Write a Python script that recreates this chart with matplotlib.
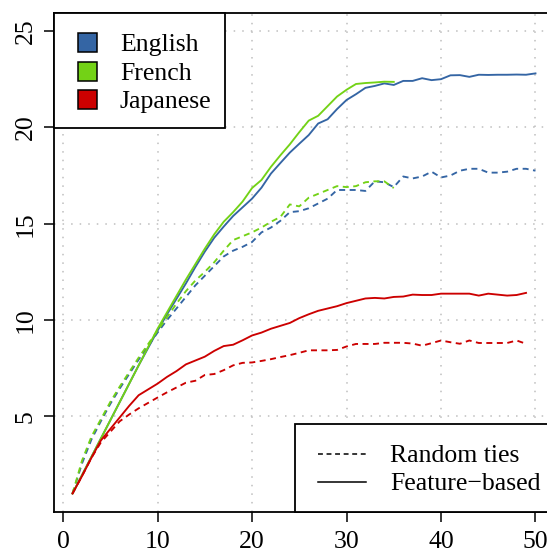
import matplotlib
matplotlib.use("Agg")
import matplotlib.pyplot as plt
from matplotlib.patches import Rectangle
from matplotlib.lines import Line2D

plt.rcParams['font.family'] = ['Liberation Serif', 'DejaVu Serif']

# ---------------- data ----------------
x_en = list(range(1, 51))
x_fr = list(range(1, 36))
x_ja = list(range(1, 50))

en_feature = [1.0, 1.95, 2.9, 3.85, 4.8, 5.75, 6.7, 7.65, 8.55, 9.45,
              10.3, 11.1, 11.9, 12.75, 13.55, 14.27, 14.85, 15.4, 15.85, 16.3,
              16.87, 17.6, 18.15, 18.69, 19.15, 19.6, 20.2, 20.42, 20.95, 21.42,
              21.72, 22.05, 22.15, 22.28, 22.2, 22.41, 22.41, 22.55, 22.45, 22.5,
              22.7, 22.71, 22.62, 22.73, 22.72, 22.73, 22.73, 22.74, 22.73, 22.8]
en_random = [1.0, 2.55, 3.8, 4.75, 5.65, 6.45, 7.2, 7.95, 8.65, 9.35,
             10.0, 10.6, 11.2, 11.8, 12.3, 12.8, 13.3, 13.6, 13.8, 14.05,
             14.55, 14.8, 15.15, 15.6, 15.65, 15.8, 16.05, 16.3, 16.75, 16.75,
             16.75, 16.7, 17.2, 17.15, 16.9, 17.45, 17.35, 17.45, 17.7, 17.4,
             17.5, 17.75, 17.85, 17.85, 17.65, 17.65, 17.7, 17.85, 17.85, 17.75]
fr_feature = [1.0, 1.95, 2.9, 3.85, 4.8, 5.75, 6.7, 7.65, 8.6, 9.55,
              10.4, 11.25, 12.1, 12.9, 13.7, 14.45, 15.1, 15.6, 16.15, 16.85,
              17.27, 17.95, 18.55, 19.12, 19.75, 20.35, 20.6, 21.1, 21.6, 21.95,
              22.25, 22.3, 22.33, 22.37, 22.36]
fr_random = [1.0, 2.7, 3.95, 4.85, 5.75, 6.55, 7.3, 8.05, 8.75, 9.45,
             10.15, 10.85, 11.5, 12.05, 12.5, 13.0, 13.6, 14.15, 14.35, 14.55,
             14.8, 15.1, 15.35, 16.0, 15.9, 16.35, 16.55, 16.75, 16.95, 16.9,
             16.95, 17.15, 17.2, 17.2, 16.85]
ja_feature = [1.0, 1.9, 2.85, 3.75, 4.35, 4.95, 5.55, 6.1, 6.4, 6.7,
              7.05, 7.35, 7.7, 7.9, 8.1, 8.4, 8.65, 8.72, 8.95, 9.2,
              9.35, 9.55, 9.7, 9.85, 10.1, 10.3, 10.48, 10.6, 10.72, 10.88,
              11.0, 11.12, 11.15, 11.12, 11.2, 11.22, 11.32, 11.3, 11.3, 11.37,
              11.37, 11.37, 11.37, 11.27, 11.37, 11.32, 11.27, 11.3, 11.41]
ja_random = [1.0, 1.9, 2.85, 3.65, 4.2, 4.75, 5.1, 5.42, 5.7, 5.98,
             6.25, 6.5, 6.75, 6.85, 7.15, 7.2, 7.4, 7.65, 7.78, 7.8,
             7.88, 7.97, 8.08, 8.18, 8.3, 8.43, 8.43, 8.43, 8.45, 8.63,
             8.76, 8.76, 8.76, 8.82, 8.82, 8.82, 8.78, 8.67, 8.8, 8.94,
             8.85, 8.77, 8.94, 8.81, 8.81, 8.81, 8.81, 8.94, 8.77]

languages = ["English", "French", "Japanese"]
colors = ["#3465A4", "#73D216", "#CC0000"]
styles = ["Random ties", "Feature\u2212based"]

x_ticks = [0, 10, 20, 30, 40, 50]
y_ticks = [5, 10, 15, 20, 25]

# ---------------- figure ----------------
W, H = 547, 553
fig = plt.figure(figsize=(W / 100, H / 100), dpi=100)


def fx(px):
    return px / W


def fy(py):
    return 1 - py / H


ax_l, ax_r, ax_t, ax_b = 54, 554, 12.5, 512
ax = fig.add_axes([fx(ax_l), fy(ax_b), fx(ax_r) - fx(ax_l), fy(ax_t) - fy(ax_b)])
ax.set_xlim(-0.96, 51.96)
ax.set_ylim(0.04, 25.96)

grid_kw = dict(color="#BEBEBE", lw=1.1, ls=(0, (1, 4.6)), zorder=0)
for xv in x_ticks:
    ax.axvline(xv, **grid_kw)
for yv in y_ticks:
    ax.axhline(yv, **grid_kw)

dash = (0, (3.2, 2.4))
lw = 1.35
series = [(x_en, en_feature, en_random), (x_fr, fr_feature, fr_random), (x_ja, ja_feature, ja_random)]
for (xs, feat, rnd), c in zip(series, colors):
    ax.plot(xs, rnd, color=c, lw=lw, ls=dash, zorder=3)
    ax.plot(xs, feat, color=c, lw=lw, ls="-", zorder=3)

ax.set_xticks(x_ticks)
ax.set_yticks(y_ticks)
ax.set_xticklabels([str(v) for v in x_ticks])
ax.set_yticklabels([str(v) for v in y_ticks], rotation=90, va="center")
ax.tick_params(axis="both", direction="out", length=7.5, width=1.1, labelsize=18.5,
               color="black", pad=6)
ax.tick_params(axis="y", pad=5)
for sp in ax.spines.values():
    sp.set_linewidth(1.3)
    sp.set_color("black")

# ---------------- legend 1 (languages) ----------------
fs = 18.5
lg1 = Rectangle((fx(54), fy(128)), fx(225) - fx(54), fy(12.5) - fy(128),
                transform=fig.transFigure, facecolor="white", edgecolor="black",
                lw=1.3, zorder=10)
fig.add_artist(lg1)
row_y = [42.7, 71.0, 99.3]
for lab, c, ry in zip(languages, colors, row_y):
    sq = Rectangle((fx(78), fy(ry + 9.5)), fx(97) - fx(78), fy(ry - 9.5) - fy(ry + 9.5),
                   transform=fig.transFigure, facecolor=c, edgecolor="black", lw=1.1,
                   zorder=11)
    fig.add_artist(sq)
    fig.text(fx(120), fy(ry), lab, fontsize=fs, va="center_baseline", ha="left", zorder=12)

# ---------------- legend 2 (styles) ----------------
lg2 = Rectangle((fx(295), fy(512)), fx(560) - fx(295), fy(424) - fy(512),
                transform=fig.transFigure, facecolor="white", edgecolor="black",
                lw=1.3, zorder=10)
fig.add_artist(lg2)
row2 = [454, 482]
for lab, ls_, ry in zip(styles, [dash, "-"], row2):
    ln = Line2D([fx(318), fx(366)], [fy(ry), fy(ry)], transform=fig.transFigure,
                color="black", lw=1.1, ls=ls_, zorder=11)
    fig.add_artist(ln)
    fig.text(fx(390), fy(ry), lab, fontsize=fs, va="center_baseline", ha="left", zorder=12)

fig.savefig("out.png", dpi=100)
